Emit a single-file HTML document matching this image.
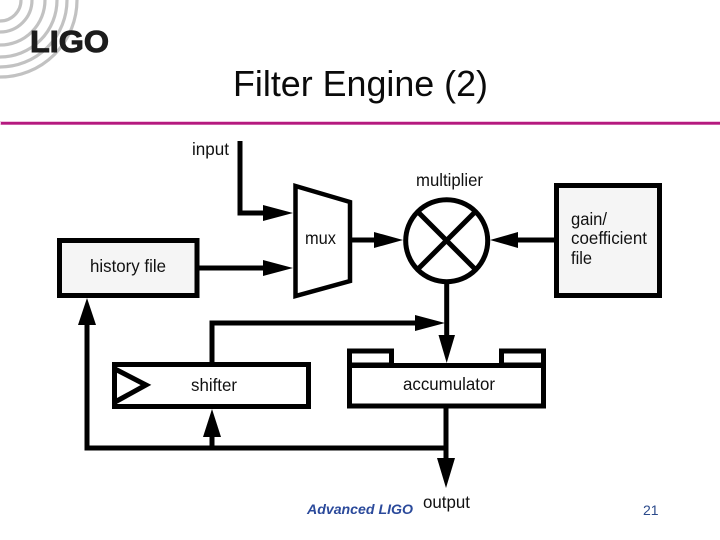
<!DOCTYPE html>
<html>
<head>
<meta charset="utf-8">
<style>
html,body{margin:0;padding:0;background:#fff;width:720px;height:540px;overflow:hidden}
svg{display:block}
text{font-family:"Liberation Sans",sans-serif;fill:#111}
</style>
</head>
<body>
<svg width="720" height="540" viewBox="0 0 720 540" xmlns="http://www.w3.org/2000/svg">
  <!-- logo arcs -->
  <g fill="none" stroke="#c2c2c2" stroke-width="3.2">
    <circle cx="0" cy="0" r="21"/>
    <circle cx="0" cy="0" r="32"/>
    <circle cx="0" cy="0" r="45"/>
    <circle cx="0" cy="0" r="57"/>
    <circle cx="0" cy="0" r="67"/>
    <circle cx="0" cy="0" r="77"/>
  </g>
  <text x="30" y="52" font-size="31" font-weight="bold" textLength="79" lengthAdjust="spacingAndGlyphs" style="fill:#1c1c1c;stroke:#1c1c1c;stroke-width:1">LIGO</text>

  <!-- title -->
  <text x="233" y="96" font-size="36" textLength="255" lengthAdjust="spacingAndGlyphs" style="fill:#0a0a0a">Filter Engine (2)</text>
  <rect x="0" y="121" width="720" height="4" fill="#f0c4e0"/>
  <rect x="1" y="122" width="719" height="2.6" fill="#b5197f"/>

  <!-- boxes -->
  <g stroke="#000" stroke-width="5" stroke-linejoin="miter">
    <rect x="59.5" y="240.5" width="137.5" height="55" fill="#f5f5f5"/>
    <rect x="556.5" y="185.5" width="103" height="110" fill="#f5f5f5"/>
    <rect x="114.5" y="364.5" width="194" height="42" fill="#fff"/>
    <rect x="349.5" y="351" width="42" height="14" fill="#fff"/>
    <rect x="501.5" y="351" width="42" height="14" fill="#fff"/>
    <rect x="349.5" y="365.5" width="194" height="40.5" fill="#fff"/>
    <polygon points="295.5,186 350,202 350,281 295.5,296" fill="#fff" stroke-width="4.5"/>
    <circle cx="446.7" cy="240.7" r="41" fill="#fff"/>
  </g>

  <!-- X in multiplier, clock triangle, connectors -->
  <g fill="none" stroke="#000" stroke-width="5">
    <line x1="417" y1="211" x2="476" y2="270"/>
    <line x1="476" y1="211" x2="417" y2="270"/>
    <polyline points="115,369 146,385 115,402"/>
    <polyline points="240,141 240,213 265,213"/>
    <line x1="199" y1="268" x2="265" y2="268"/>
    <line x1="351" y1="240" x2="376" y2="240"/>
    <line x1="516" y1="240" x2="555" y2="240"/>
    <line x1="446.7" y1="282" x2="446.7" y2="337"/>
    <polyline points="212,363 212,323 417,323"/>
    <polyline points="87,324 87,448 446,448"/>
    <line x1="212" y1="436" x2="212" y2="448"/>
    <line x1="446" y1="408" x2="446" y2="460"/>
  </g>

  <!-- arrowheads -->
  <g fill="#000">
    <polygon points="263,205 293,213 263,221"/>
    <polygon points="263,260 293,268 263,276"/>
    <polygon points="374,232 403,240 374,248"/>
    <polygon points="518,232 490,240 518,248"/>
    <polygon points="415,315 445,323 415,331"/>
    <polygon points="438.5,335 455,335 446.7,363"/>
    <polygon points="78,325 96,325 87,298"/>
    <polygon points="203,437 221,437 212,409"/>
    <polygon points="437,458 455,458 446,488"/>
  </g>

  <!-- labels -->
  <g font-size="17.5">
    <text x="192" y="155" textLength="37" lengthAdjust="spacingAndGlyphs">input</text>
    <text x="416" y="186" textLength="67" lengthAdjust="spacingAndGlyphs">multiplier</text>
    <text x="305" y="244" textLength="31" lengthAdjust="spacingAndGlyphs">mux</text>
    <text x="90" y="272" textLength="76" lengthAdjust="spacingAndGlyphs">history file</text>
    <text x="571" y="225" textLength="36" lengthAdjust="spacingAndGlyphs">gain/</text>
    <text x="571" y="244" textLength="76" lengthAdjust="spacingAndGlyphs">coefficient</text>
    <text x="571" y="264" textLength="21" lengthAdjust="spacingAndGlyphs">file</text>
    <text x="191" y="391" textLength="46" lengthAdjust="spacingAndGlyphs">shifter</text>
    <text x="403" y="390" textLength="92" lengthAdjust="spacingAndGlyphs">accumulator</text>
    <text x="423" y="508" textLength="47" lengthAdjust="spacingAndGlyphs">output</text>
  </g>

  <!-- footer -->
  <text x="307" y="514" font-size="14" font-style="italic" font-weight="bold" textLength="106" lengthAdjust="spacingAndGlyphs" style="fill:#2b4a9b">Advanced LIGO</text>
  <text x="643" y="515" font-size="14" style="fill:#2b4a8b">21</text>
</svg>
</body>
</html>
